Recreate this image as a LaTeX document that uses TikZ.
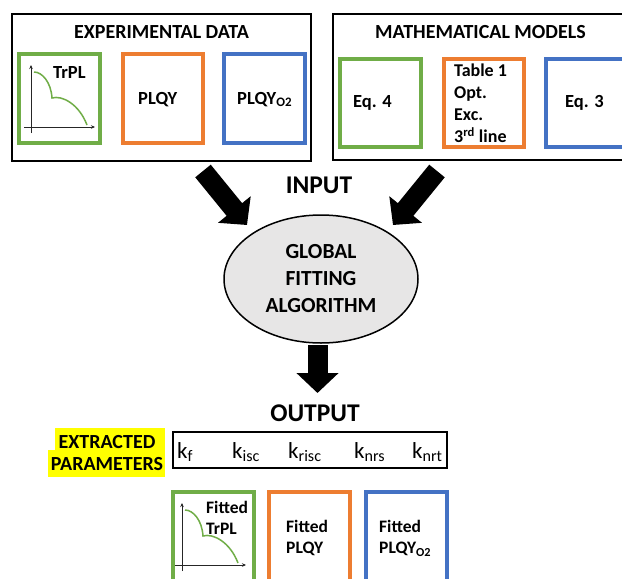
\documentclass[tikz,border=0pt]{standalone}
\usepackage{fontspec}
\setmainfont{Carlito}
\usetikzlibrary{shapes.geometric, arrows.meta}

\definecolor{Green}{RGB}{112,173,71}
\definecolor{Orange}{RGB}{237,125,49}
\definecolor{Blue}{RGB}{68,114,196}
\definecolor{Black}{RGB}{0,0,0}
\definecolor{White}{RGB}{255,255,255}
\definecolor{Gray}{RGB}{231,230,230}
\definecolor{Yellow}{RGB}{255,255,0}

\newcommand{\rate}[1]			{k\textsubscript{#1}}
\newcommand{\otwo}				{\textsubscript{O2}}
\newcommand{\decayplot}[2]{%
	\begin{scope}[shift={(#1,#2)}]
		\draw[axisline] (0,6) -- (0,-62);
		\draw[axisline] (-7,0) -- (64,0);
		\draw[decayline] (3,-55) .. controls (11,-55) and (20,-45) .. (21,-29) .. controls (31,-32) and (48,-23) .. (56,-2);
	\end{scope}}

\tikzset{
	outerbox/.style={draw=Black, line width=2pt, inner sep=0pt},
	colbox/.style={line width=4pt, inner sep=0pt, minimum width=81pt, minimum height=89pt},
	titletext/.style={inner sep=0pt, font=\fontsize{20pt}{24pt}\selectfont\bfseries},
	headtext/.style={inner sep=0pt, font=\fontsize{18.5pt}{22pt}\selectfont\bfseries},
	bigtext/.style={inner sep=0pt, font=\fontsize{25.5pt}{30pt}\selectfont\bfseries},
	smalltext/.style={inner sep=0pt, align=left, font=\fontsize{17.5pt}{21.5pt}\selectfont\bfseries},
	ratetext/.style={inner sep=0pt, font=\fontsize{23pt}{27pt}\selectfont},
	bigarrow/.style={draw=Black, line width=20pt, -{Triangle[length=20pt, width=41pt]}},
	axisline/.style={draw=Black!85, line width=0.8pt, -{Stealth[length=4pt, width=3.5pt]}},
	decayline/.style={draw=Green, line width=1.5pt}
}

\begin{document}
\begin{tikzpicture}[x=1pt, y=-1pt]

		\useasboundingbox (0,0) rectangle (622,579);
		\fill[White] (0,0) rectangle (622,579);
		\clip (0,0) rectangle (622,579);

		% Input boxes
		\node[outerbox, minimum width=299pt, minimum height=147pt] (expdata) at (161.5,87.5) {};
		\node[outerbox, minimum width=307pt, minimum height=146pt] (models) at (486.5,87) {};

		\node[titletext, anchor=base] (exptitle) at (161.5,38) {EXPERIMENTAL DATA};
		\node[titletext, anchor=base] (modtitle) at (480.5,38) {MATHEMATICAL MODELS};

		\node[colbox, draw=Green] (trpl) at (59.5,98.5) {};
		\node[colbox, draw=Orange, minimum width=80pt] (plqy) at (163,98.5) {};
		\node[colbox, draw=Blue] (plqyo) at (264.5,98.5) {};

		\decayplot{31}{127}
		\node[headtext, anchor=base west] (trpllabel) at (53,78) {TrPL};
		\node[headtext, anchor=base west] (plqylabel) at (138,104) {PLQY};
		\node[headtext, anchor=base west] (plqyolabel) at (237,104) {PLQY\otwo};

		\node[colbox, draw=Green, minimum height=88pt] (eqfour) at (380.5,103) {};
		\node[colbox, draw=Orange, minimum width=80pt, minimum height=88pt] (table) at (484,103) {};
		\node[colbox, draw=Blue, minimum height=88pt] (eqthree) at (586.5,103) {};

		\node[headtext, anchor=base west] (eqfourlabel) at (353,107.5) {Eq. 4};
		\node[smalltext, anchor=north west, font=\fontsize{18pt}{22pt}\selectfont\bfseries] (tablelabel) at (454,64) {Table 1\\Opt.\\Exc.\\3\textsuperscript{rd} line};
		\node[headtext, anchor=base west] (eqthreelabel) at (565,107.5) {Eq. 3};

		% Arrows
		\coordinate (inL) at (203,171);
		\coordinate (tipL) at (247,225);
		\coordinate (inR) at (437,171);
		\coordinate (tipR) at (393,225);
		\coordinate (outtip) at (317.5,393);

		\draw[bigarrow] (inL) -- (tipL);
		\draw[bigarrow] (inR) -- (tipR);
		\node[bigtext] (input) at (319,185.5) {INPUT};

		% Fitting
		\draw[bigarrow] (317.5,345) -- (outtip);
		\node[ellipse, draw=Black, line width=1.5pt, fill=Gray, minimum width=194pt, minimum height=128pt, inner sep=0pt, align=center, font=\fontsize{21.5pt}{27pt}\selectfont\bfseries] (fit) at (321,279) {GLOBAL\\FITTING\\ALGORITHM};

		\node[bigtext] (output) at (315,413) {OUTPUT};

		% Parameters
		\fill[Yellow] (55,428) rectangle (165,450);
		\fill[Yellow] (48,450) rectangle (165,477);
		\node[inner sep=0pt, anchor=north, align=center, font=\fontsize{20pt}{22pt}\selectfont\bfseries] (extracted) at (107,435) {EXTRACTED\\PARAMETERS};

		\node[outerbox, minimum width=274pt, minimum height=36pt] (params) at (310,450) {};
		\node[ratetext, anchor=base west] (kf) at (177,458) {\rate{f}};
		\node[ratetext, anchor=base west] (kisc) at (232,458) {\rate{isc}};
		\node[ratetext, anchor=base west] (krisc) at (288,458) {\rate{risc}};
		\node[ratetext, anchor=base west] (knrs) at (354,458) {\rate{nrs}};
		\node[ratetext, anchor=base west] (knrt) at (412,458) {\rate{nrt}};

		% Fitted boxes
		\node[colbox, draw=Green, minimum height=92pt] (fittrpl) at (213,538) {};
		\node[colbox, draw=Orange, minimum height=92pt] (fitplqy) at (309.5,538) {};
		\node[colbox, draw=Blue, minimum height=92pt] (fitplqyo) at (406.5,538) {};

		\decayplot{182}{565}
		\node[smalltext, anchor=north west] (fittrpllabel) at (206,501) {Fitted\\TrPL};
		\node[smalltext, anchor=north west] (fitplqylabel) at (286,520) {Fitted\\PLQY};
		\node[smalltext, anchor=north west] (fitplqyolabel) at (379,520) {Fitted\\PLQY\otwo};

	\end{tikzpicture}
\end{document}
